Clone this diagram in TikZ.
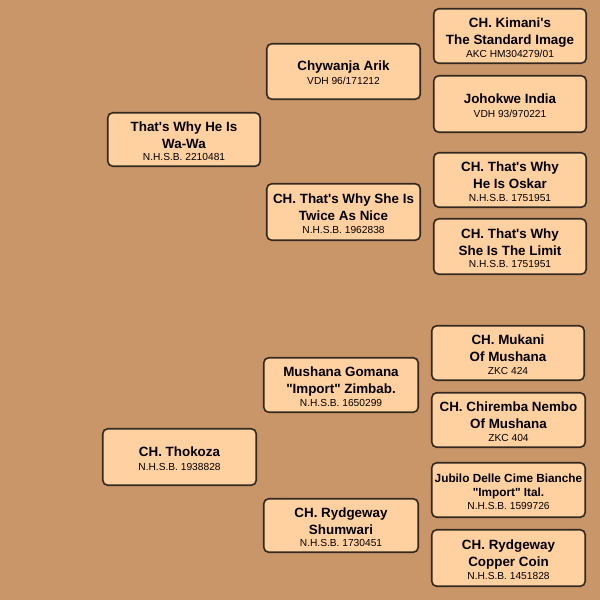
\documentclass[tikz,border=0pt]{standalone}
\usepackage{fontspec}
\newfontfamily\pf{Liberation Sans}[Ligatures=TeXOff]
\definecolor{bg}{HTML}{C89669}
\definecolor{boxfill}{HTML}{FFD0A0}
\definecolor{boxline}{HTML}{33291F}
\newcommand\pedtxt[3][-4.5pt]{\begin{tabular}{@{}c@{}}#2\\[#1]{\mdseries\fontsize{10.2}{12}\selectfont #3}\end{tabular}}
\newcommand\q{\textquotesingle}
\begin{document}
\begin{tikzpicture}[x=1pt,y=-1pt,
  pbox/.style={draw=boxline, line width=1.6pt, fill=boxfill, rounded corners=5pt, inner sep=0pt},
  ptext/.style={inner sep=0pt, font=\pf\fontsize{13.4}{17}\selectfont\bfseries},
  psmall/.style={inner sep=0pt, font=\pf\fontsize{11.8}{14}\selectfont\bfseries}]
\fill[bg] (0,0) rectangle (600,600);
\useasboundingbox (0,0) rectangle (600,600);
% generation 1
\node[pbox, minimum width=152.5pt, minimum height=53.5pt] (a) at (184,139.5) {};
\node[pbox, minimum width=153.5pt, minimum height=56.5pt] (b) at (179.5,457) {};
% generation 2
\node[pbox, minimum width=153.5pt, minimum height=55.5pt] (c) at (343.5,71.5) {};
\node[pbox, minimum width=153.5pt, minimum height=56.5pt] (d) at (343.5,212) {};
\node[pbox, minimum width=154.5pt, minimum height=54.5pt] (e) at (341,385) {};
\node[pbox, minimum width=154.5pt, minimum height=53.5pt] (f) at (341,525.5) {};
% generation 3
\node[pbox, minimum width=152.5pt, minimum height=54.5pt] (g) at (510,36) {};
\node[pbox, minimum width=152.5pt, minimum height=56.5pt] (h) at (510,104) {};
\node[pbox, minimum width=152.5pt, minimum height=54.5pt] (i) at (510,180) {};
\node[pbox, minimum width=152.5pt, minimum height=55.5pt] (j) at (510,246.5) {};
\node[pbox, minimum width=152.5pt, minimum height=54.5pt] (k) at (508,353) {};
\node[pbox, minimum width=153.5pt, minimum height=54.5pt] (l) at (508.5,420) {};
\node[pbox, minimum width=153.5pt, minimum height=54.5pt] (m) at (508.5,490) {};
\node[pbox, minimum width=153.5pt, minimum height=56.5pt] (n) at (508.5,558) {};
% texts
\node[ptext] (at) at ([yshift=-3pt]a.center) {\pedtxt{That\q s Why He Is\\Wa-Wa}{N.H.S.B. 2210481}};
\node[ptext] (bt) at ([yshift=-3pt]b.center) {\pedtxt[-3pt]{CH. Thokoza}{N.H.S.B. 1938828}};
\node[ptext] (ct) at ([yshift=-3pt]c.center) {\pedtxt[-3pt]{Chywanja Arik}{VDH 96/171212}};
\node[ptext] (dt) at ([yshift=-3pt]d.center) {\pedtxt{CH. That\q s Why She Is\\Twice As Nice}{N.H.S.B. 1962838}};
\node[ptext] (et) at ([yshift=-3pt]e.center) {\pedtxt{Mushana Gomana\\"Import" Zimbab.}{N.H.S.B. 1650299}};
\node[ptext] (ft) at ([yshift=-3pt]f.center) {\pedtxt{CH. Rydgeway\\Shumwari}{N.H.S.B. 1730451}};
\node[ptext] (gt) at ([yshift=-3pt]g.center) {\pedtxt{CH. Kimani\q s\\The Standard Image}{AKC HM304279/01}};
\node[ptext] (ht) at ([yshift=-3pt]h.center) {\pedtxt[-3pt]{Johokwe India}{VDH 93/970221}};
\node[ptext] (it) at ([yshift=-3pt]i.center) {\pedtxt{CH. That\q s Why\\He Is Oskar}{N.H.S.B. 1751951}};
\node[ptext] (jt) at ([yshift=-3pt]j.center) {\pedtxt{CH. That\q s Why\\She Is The Limit}{N.H.S.B. 1751951}};
\node[ptext] (kt) at ([yshift=-3pt]k.center) {\pedtxt{CH. Mukani\\Of Mushana}{ZKC 424}};
\node[ptext] (lt) at ([yshift=-3pt]l.center) {\pedtxt{CH. Chiremba Nembo\\Of Mushana}{ZKC 404}};
\node[psmall] (mt) at ([yshift=-3pt]m.center) {\pedtxt[-1pt]{Jubilo Delle Cime Bianche\\"Import" Ital.}{N.H.S.B. 1599726}};
\node[ptext] (nt) at ([yshift=-3pt]n.center) {\pedtxt{CH. Rydgeway\\Copper Coin}{N.H.S.B. 1451828}};
\end{tikzpicture}
\end{document}
